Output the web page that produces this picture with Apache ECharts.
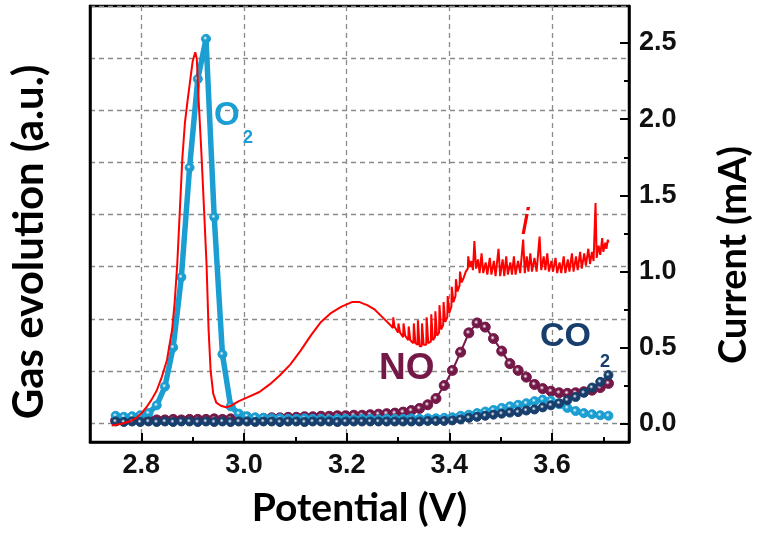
<!DOCTYPE html>
<html>
<head>
<meta charset="utf-8">
<script src="https://cdn.jsdelivr.net/npm/echarts@6/dist/echarts.min.js"></script>
<style>
  html, body { margin: 0; padding: 0; background: #fff; }
  #chart { width: 761px; height: 533px; }
</style>
</head>
<body>
<div id="chart"></div>
<script>
// Potential sweep (V) at which the gas signals were sampled
const gasPotential = [
  2.750, 2.766, 2.782, 2.798, 2.814, 2.830, 2.846, 2.862, 2.878, 2.894,
  2.910, 2.926, 2.942, 2.958, 2.974, 2.990, 3.006, 3.022, 3.038, 3.054,
  3.070, 3.086, 3.102, 3.118, 3.134, 3.150, 3.166, 3.182, 3.198, 3.214,
  3.230, 3.246, 3.262, 3.278, 3.294, 3.310, 3.326, 3.342, 3.358, 3.374,
  3.390, 3.406, 3.422, 3.438, 3.454, 3.470, 3.486, 3.502, 3.518, 3.534,
  3.550, 3.566, 3.582, 3.598, 3.614, 3.630, 3.646, 3.662, 3.678, 3.694,
  3.710
];

// Gas evolution signals (a.u.)
const o2Signal = [
  0.14, 0.12, 0.13, 0.15, 0.19, 0.34, 0.70, 1.45, 2.80, 4.90,
  6.60, 7.37, 3.95, 1.32, 0.32, 0.18, 0.13, 0.11, 0.10, 0.09,
  0.09, 0.08, 0.08, 0.09, 0.08, 0.08, 0.07, 0.08, 0.08, 0.07,
  0.08, 0.08, 0.07, 0.08, 0.08, 0.08, 0.09, 0.08, 0.09, 0.09,
  0.10, 0.11, 0.14, 0.16, 0.19, 0.22, 0.25, 0.29, 0.32, 0.35,
  0.38, 0.42, 0.45, 0.43, 0.36, 0.29, 0.23, 0.19, 0.17, 0.15,
  0.14
];

const noSignal = [
  0.05, 0.05, 0.06, 0.05, 0.06, 0.06, 0.06, 0.07, 0.06, 0.07,
  0.07, 0.07, 0.08, 0.07, 0.08, 0.08, 0.08, 0.09, 0.09, 0.10,
  0.10, 0.11, 0.11, 0.12, 0.12, 0.13, 0.13, 0.14, 0.14, 0.15,
  0.15, 0.16, 0.17, 0.18, 0.19, 0.21, 0.24, 0.28, 0.35, 0.47,
  0.72, 1.01, 1.36, 1.73, 1.92, 1.84, 1.62, 1.38, 1.14, 1.01,
  0.88, 0.74, 0.66, 0.61, 0.58, 0.57, 0.58, 0.60, 0.63, 0.68,
  0.76
];

const co2Signal = [
  0.03, 0.02, 0.03, 0.02, 0.03, 0.02, 0.03, 0.02, 0.03, 0.03,
  0.02, 0.03, 0.02, 0.03, 0.02, 0.03, 0.03, 0.02, 0.03, 0.03,
  0.02, 0.03, 0.03, 0.02, 0.03, 0.03, 0.03, 0.02, 0.03, 0.03,
  0.03, 0.03, 0.03, 0.03, 0.03, 0.03, 0.03, 0.03, 0.04, 0.04,
  0.04, 0.05, 0.07, 0.10, 0.12, 0.14, 0.16, 0.18, 0.20, 0.21,
  0.24, 0.26, 0.30, 0.34, 0.38, 0.44, 0.50, 0.58, 0.68, 0.79,
  0.92
];

// Cell current trace: potential (V) and current (mA)
const currentPotential = [
  2.742, 2.760, 2.780, 2.790, 2.800, 2.810, 2.820, 2.830, 2.840, 2.850,
  2.860, 2.865, 2.870, 2.875, 2.880, 2.885, 2.890, 2.895, 2.900, 2.905,
  2.908, 2.912, 2.917, 2.922, 2.927, 2.931, 2.935, 2.940, 2.946, 2.955,
  2.965, 2.975, 2.990, 3.010, 3.030, 3.050, 3.070, 3.090, 3.110, 3.130,
  3.150, 3.170, 3.190, 3.210, 3.225, 3.240, 3.255, 3.270, 3.285,
  3.290, 3.2908, 3.293, 3.300, 3.3008, 3.304,
  3.310, 3.3108, 3.314, 3.320, 3.3208, 3.324,
  3.330, 3.3308, 3.334, 3.338, 3.3388, 3.342,
  3.346, 3.3468, 3.350, 3.355, 3.3558, 3.359,
  3.364, 3.3648, 3.368, 3.372, 3.3728, 3.376,
  3.380, 3.3808, 3.384, 3.388, 3.3888, 3.392,
  3.396, 3.3968, 3.400, 3.404, 3.4048, 3.408,
  3.412, 3.4128, 3.416, 3.420, 3.4208, 3.424,
  3.428, 3.432, 3.436,
  3.4368, 3.440, 3.4428, 3.446, 3.4488, 3.452,
  3.4558, 3.459, 3.4628, 3.466, 3.4708, 3.474,
  3.4788, 3.482, 3.4868, 3.490, 3.4958, 3.499,
  3.5038, 3.507, 3.5108, 3.514, 3.5188, 3.522,
  3.5258, 3.529, 3.5338, 3.538, 3.5438, 3.547,
  3.5508, 3.554, 3.5578, 3.561, 3.5658, 3.570,
  3.5758, 3.579, 3.5838, 3.587, 3.5908, 3.594,
  3.5988, 3.602, 3.6068, 3.610, 3.6148, 3.618,
  3.6228, 3.626, 3.6308, 3.634, 3.6388, 3.642,
  3.6468, 3.650, 3.6548, 3.658, 3.6628, 3.666,
  3.6708, 3.674, 3.6778, 3.681, 3.6848, 3.687,
  3.6908, 3.694, 3.6978, 3.700, 3.7038, 3.706,
  3.7088, 3.710
];

const currentMilliamp = [
  -0.01, 0.00, 0.02, 0.04, 0.07, 0.11, 0.16, 0.22, 0.31, 0.42,
  0.62, 0.80, 1.05, 1.40, 1.75, 1.98, 2.12, 2.25, 2.38, 2.44,
  2.40, 2.10, 1.78, 1.42, 1.05, 0.62, 0.35, 0.20, 0.14, 0.12,
  0.11, 0.12, 0.15, 0.18, 0.21, 0.26, 0.32, 0.39, 0.48, 0.58,
  0.67, 0.73, 0.77, 0.80, 0.80, 0.78, 0.75, 0.70, 0.65,
  0.63, 0.70, 0.64, 0.60, 0.66, 0.60,
  0.57, 0.66, 0.58, 0.55, 0.64, 0.55,
  0.53, 0.66, 0.53, 0.52, 0.68, 0.51,
  0.51, 0.66, 0.52, 0.52, 0.70, 0.53,
  0.54, 0.72, 0.55, 0.57, 0.74, 0.58,
  0.60, 0.78, 0.62, 0.65, 0.80, 0.67,
  0.70, 0.84, 0.73, 0.77, 0.90, 0.80,
  0.84, 0.95, 0.87, 0.91, 1.00, 0.93,
  0.96, 1.00, 1.02,
  1.10, 1.03, 1.07, 1.01, 1.20, 1.02,
  1.08, 0.99, 1.12, 0.99, 1.06, 0.98,
  1.09, 0.98, 1.07, 0.97, 1.15, 0.97,
  1.08, 0.97, 1.10, 0.98, 1.06, 0.98,
  1.10, 0.98, 1.07, 0.99, 1.21, 0.99,
  1.10, 1.00, 1.12, 1.00, 1.09, 1.00,
  1.23, 1.01, 1.10, 1.01, 1.12, 1.00,
  1.07, 1.00, 1.09, 0.99, 1.06, 0.99,
  1.10, 0.99, 1.08, 1.00, 1.12, 1.00,
  1.10, 1.01, 1.13, 1.02, 1.12, 1.04,
  1.15, 1.05, 1.13, 1.07, 1.45, 1.09,
  1.17, 1.11, 1.22, 1.13, 1.19, 1.15,
  1.21, 1.19
];

// Axis tick positions
const potentialTicks = [2.8, 3.0, 3.2, 3.4, 3.6];
const potentialMinorTicks = [2.9, 3.1, 3.3, 3.5, 3.7];
const gasGridValues = [0, 1, 2, 3, 4, 5, 6, 7, 8];
const currentTicks = [0, 0.5, 1.0, 1.5, 2.0, 2.5];
const currentMinorTicks = [0.25, 0.75, 1.25, 1.75, 2.25];

const zip = (xs, ys) => xs.map((x, i) => [x, ys[i]]);

const COLOR_O2 = '#1b9fd2';
const COLOR_NO = '#741848';
const COLOR_CO2 = '#173e6c';
const COLOR_I = '#ff0000';

// Shaded ball look for the gas markers
function ball(color) {
  return {
    type: 'radial', x: 0.42, y: 0.42, r: 0.6,
    colorStops: [
      { offset: 0, color: '#ffffff' },
      { offset: 0.35, color: color },
      { offset: 1, color: color }
    ]
  };
}

const X_MIN = 2.7, X_MAX = 3.75;
const GAS_MIN = -0.364, GAS_MAX = 8;
const CUR_MIN = -0.118, CUR_MAX = 2.743;

const tickFont = { fontFamily: 'Liberation Sans', fontWeight: 'bold', fontSize: 27, color: '#111' };
const titleBase = { fontFamily: 'Lato', fontWeight: 'bold', color: '#000' };
const gridLine = { show: true, lineStyle: { color: '#8a8a8a', width: 1.3, type: [5, 4] } };

const chart = echarts.init(document.getElementById('chart'), null, { renderer: 'canvas' });

chart.setOption({
  animation: false,
  backgroundColor: '#fff',
  grid: {
    left: 88, right: 122, top: 6, bottom: 91,
    show: true, borderColor: '#000', borderWidth: 2.5, backgroundColor: 'transparent'
  },
  xAxis: [
    {
      type: 'value', min: X_MIN, max: X_MAX, position: 'bottom',
      name: 'Potential (V)', nameLocation: 'middle', nameGap: 47,
      nameTextStyle: { ...titleBase, fontSize: 39 },
      axisLine: { show: true, onZero: false, lineStyle: { color: '#000', width: 2.5 } },
      axisTick: { show: true, inside: true, length: 9, customValues: potentialTicks, lineStyle: { color: '#000', width: 2 } },
      axisLabel: { show: true, customValues: potentialTicks, margin: 10, formatter: v => v.toFixed(1), ...tickFont },
      splitLine: gridLine
    },
    {
      type: 'value', min: X_MIN, max: X_MAX, position: 'bottom',
      axisLine: { show: false, onZero: false },
      axisTick: { show: true, inside: true, length: 5, customValues: potentialMinorTicks, lineStyle: { color: '#000', width: 2 } },
      axisLabel: { show: false },
      splitLine: { show: false }
    }
  ],
  yAxis: [
    {
      type: 'value', min: GAS_MIN, max: GAS_MAX, position: 'left',
      name: 'Gas evolution (a.u.)', nameLocation: 'middle', nameGap: 40, nameRotate: 90,
      nameTextStyle: { ...titleBase, fontSize: 42, padding: [0, 36, 0, 0] },
      axisLine: { show: true, onZero: false, lineStyle: { color: '#000', width: 2.5 } },
      axisTick: { show: false, customValues: gasGridValues },
      axisLabel: { show: false },
      splitLine: gridLine
    },
    {
      type: 'value', min: CUR_MIN, max: CUR_MAX, position: 'right',
      name: 'Current (mA)', nameLocation: 'middle', nameGap: 86, nameRotate: 90,
      nameTextStyle: { ...titleBase, fontSize: 38, padding: [0, 62, 0, 0] },
      axisLine: { show: true, onZero: false, lineStyle: { color: '#000', width: 2.5 } },
      axisTick: { show: true, inside: true, length: 9, customValues: currentTicks, lineStyle: { color: '#000', width: 2 } },
      axisLabel: { show: true, customValues: currentTicks, margin: 10, formatter: v => v.toFixed(1), ...tickFont },
      splitLine: { show: false }
    },
    {
      type: 'value', min: CUR_MIN, max: CUR_MAX, position: 'right',
      axisLine: { show: false, onZero: false },
      axisTick: { show: true, inside: true, length: 5, customValues: currentMinorTicks, lineStyle: { color: '#000', width: 2 } },
      axisLabel: { show: false },
      splitLine: { show: false }
    }
  ],
  series: [
    {
      name: 'NO', type: 'line', xAxisIndex: 0, yAxisIndex: 0,
      data: zip(gasPotential, noSignal),
      lineStyle: { color: COLOR_NO, width: 2 },
      symbol: 'circle', symbolSize: 10, showAllSymbol: true,
      itemStyle: { color: ball(COLOR_NO), borderColor: COLOR_NO, borderWidth: 1 },
      z: 3
    },
    {
      name: 'O2', type: 'line', xAxisIndex: 0, yAxisIndex: 0,
      data: zip(gasPotential, o2Signal),
      lineStyle: { color: COLOR_O2, width: 5.5 },
      symbol: 'circle', symbolSize: 9, showAllSymbol: true,
      itemStyle: { color: ball(COLOR_O2), borderColor: COLOR_O2, borderWidth: 1 },
      z: 4
    },
    {
      name: 'CO2', type: 'line', xAxisIndex: 0, yAxisIndex: 0,
      data: zip(gasPotential, co2Signal),
      lineStyle: { color: COLOR_CO2, width: 2 },
      symbol: 'circle', symbolSize: 9, showAllSymbol: true,
      itemStyle: { color: ball(COLOR_CO2), borderColor: COLOR_CO2, borderWidth: 1 },
      z: 5
    },
    {
      name: 'i', type: 'line', xAxisIndex: 0, yAxisIndex: 1,
      data: zip(currentPotential, currentMilliamp),
      lineStyle: { color: COLOR_I, width: 2 },
      showSymbol: false, symbol: 'none',
      z: 6
    }
  ],
  graphic: [
    { type: 'text', left: 214, top: 99, z: 100, style: { text: 'O', font: 'bold 33px "Liberation Sans"', fill: COLOR_O2 } },
    { type: 'text', left: 243, top: 129, z: 100, style: { text: '2', font: 'bold 18px "Liberation Sans"', fill: COLOR_O2 } },
    { type: 'text', left: 379, top: 350, z: 100, style: { text: 'NO', font: 'bold 37px "Liberation Sans"', fill: COLOR_NO } },
    { type: 'text', left: 540, top: 320, z: 100, style: { text: 'CO', font: 'bold 34px "Liberation Sans"', fill: COLOR_CO2 } },
    { type: 'text', left: 600, top: 353, z: 100, style: { text: '2', font: 'bold 18px "Liberation Sans"', fill: COLOR_CO2 } },
    { type: 'text', left: 521, top: 205, z: 100, style: { text: 'i', font: 'italic 37px "Liberation Sans"', fill: COLOR_I } }
  ]
});
</script>
</body>
</html>
